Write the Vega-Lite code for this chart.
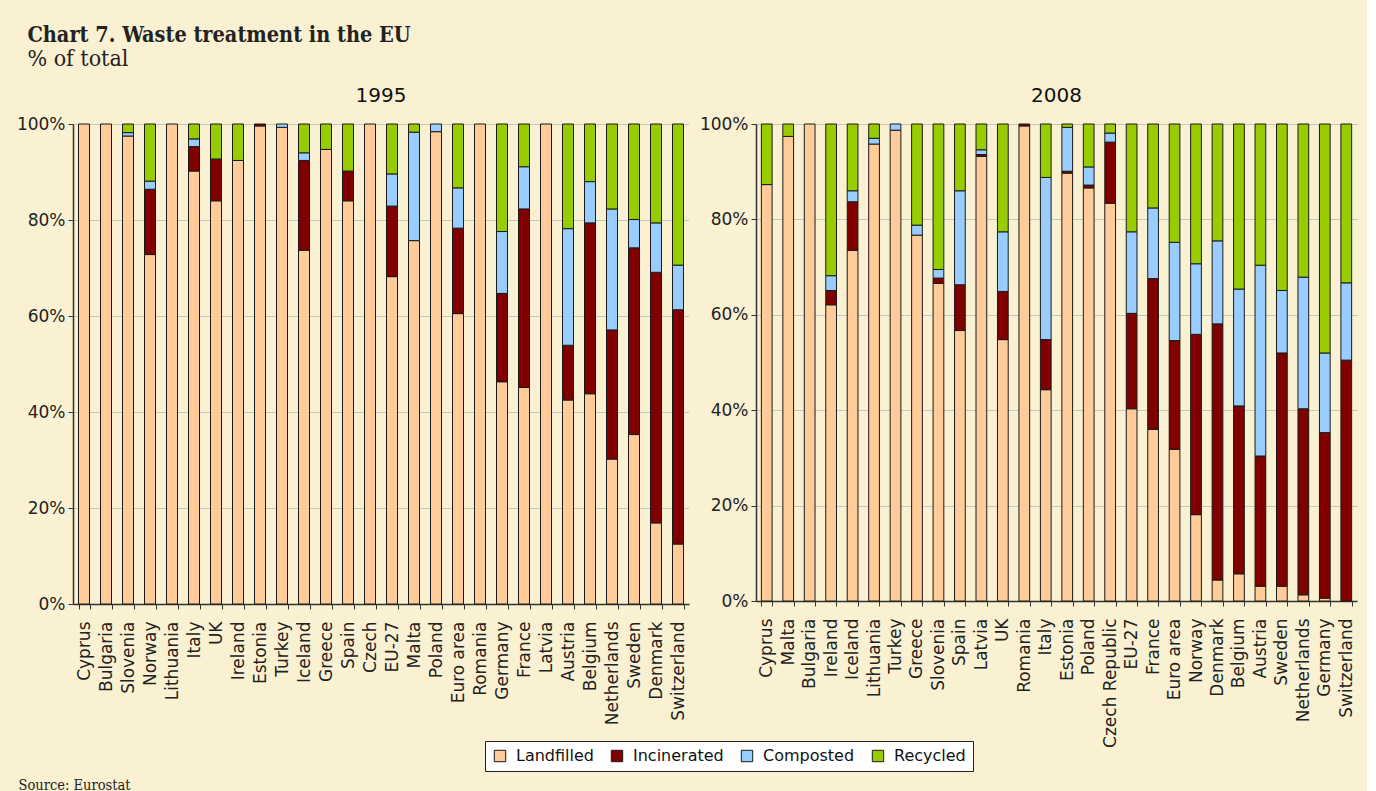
{
  "$schema": "https://vega.github.io/schema/vega-lite/v6.json",
  "background": "#FAF1D2",
  "padding": {"left": 16, "top": 24, "right": 10, "bottom": 2},
  "title": {
    "text": "Chart 7. Waste treatment in the EU",
    "subtitle": "% of total",
    "anchor": "start",
    "dx": 11,
    "font": "DejaVu Serif Condensed, DejaVu Serif",
    "fontSize": 21.5,
    "fontWeight": "bold",
    "color": "#222222",
    "subtitleFont": "DejaVu Serif Condensed, DejaVu Serif",
    "subtitleFontSize": 23,
    "subtitleColor": "#222222",
    "subtitlePadding": 2,
    "offset": 15
  },
  "datasets": {
    "waste": [
      {"year": "1995", "country": "Cyprus", "Landfilled": 100, "Incinerated": 0, "Composted": 0, "Recycled": 0},
      {"year": "1995", "country": "Bulgaria", "Landfilled": 100, "Incinerated": 0, "Composted": 0, "Recycled": 0},
      {"year": "1995", "country": "Slovenia", "Landfilled": 97.5, "Incinerated": 0, "Composted": 0.7, "Recycled": 1.8},
      {"year": "1995", "country": "Norway", "Landfilled": 72.8, "Incinerated": 13.6, "Composted": 1.7, "Recycled": 11.9},
      {"year": "1995", "country": "Lithuania", "Landfilled": 100, "Incinerated": 0, "Composted": 0, "Recycled": 0},
      {"year": "1995", "country": "Italy", "Landfilled": 90.2, "Incinerated": 5.1, "Composted": 1.6, "Recycled": 3.1},
      {"year": "1995", "country": "UK", "Landfilled": 84.0, "Incinerated": 8.7, "Composted": 0, "Recycled": 7.3},
      {"year": "1995", "country": "Ireland", "Landfilled": 92.4, "Incinerated": 0, "Composted": 0, "Recycled": 7.6},
      {"year": "1995", "country": "Estonia", "Landfilled": 99.6, "Incinerated": 0.4, "Composted": 0, "Recycled": 0},
      {"year": "1995", "country": "Turkey", "Landfilled": 99.3, "Incinerated": 0, "Composted": 0.7, "Recycled": 0},
      {"year": "1995", "country": "Iceland", "Landfilled": 73.7, "Incinerated": 18.7, "Composted": 1.6, "Recycled": 6.0},
      {"year": "1995", "country": "Greece", "Landfilled": 94.7, "Incinerated": 0, "Composted": 0, "Recycled": 5.3},
      {"year": "1995", "country": "Spain", "Landfilled": 84.0, "Incinerated": 6.2, "Composted": 0, "Recycled": 9.8},
      {"year": "1995", "country": "Czech", "Landfilled": 100, "Incinerated": 0, "Composted": 0, "Recycled": 0},
      {"year": "1995", "country": "EU-27", "Landfilled": 68.2, "Incinerated": 14.7, "Composted": 6.7, "Recycled": 10.4},
      {"year": "1995", "country": "Malta", "Landfilled": 75.7, "Incinerated": 0, "Composted": 22.6, "Recycled": 1.7},
      {"year": "1995", "country": "Poland", "Landfilled": 98.4, "Incinerated": 0, "Composted": 1.6, "Recycled": 0},
      {"year": "1995", "country": "Euro area", "Landfilled": 60.5, "Incinerated": 17.8, "Composted": 8.4, "Recycled": 13.3},
      {"year": "1995", "country": "Romania", "Landfilled": 100, "Incinerated": 0, "Composted": 0, "Recycled": 0},
      {"year": "1995", "country": "Germany", "Landfilled": 46.3, "Incinerated": 18.4, "Composted": 12.9, "Recycled": 22.4},
      {"year": "1995", "country": "France", "Landfilled": 45.1, "Incinerated": 37.2, "Composted": 8.8, "Recycled": 8.9},
      {"year": "1995", "country": "Latvia", "Landfilled": 100, "Incinerated": 0, "Composted": 0, "Recycled": 0},
      {"year": "1995", "country": "Austria", "Landfilled": 42.5, "Incinerated": 11.4, "Composted": 24.3, "Recycled": 21.8},
      {"year": "1995", "country": "Belgium", "Landfilled": 43.8, "Incinerated": 35.6, "Composted": 8.6, "Recycled": 12.0},
      {"year": "1995", "country": "Netherlands", "Landfilled": 30.2, "Incinerated": 26.9, "Composted": 25.2, "Recycled": 17.7},
      {"year": "1995", "country": "Sweden", "Landfilled": 35.3, "Incinerated": 38.9, "Composted": 5.9, "Recycled": 19.9},
      {"year": "1995", "country": "Denmark", "Landfilled": 16.9, "Incinerated": 52.2, "Composted": 10.3, "Recycled": 20.6},
      {"year": "1995", "country": "Switzerland", "Landfilled": 12.5, "Incinerated": 48.8, "Composted": 9.3, "Recycled": 29.4},
      {"year": "2008", "country": "Cyprus", "Landfilled": 87.3, "Incinerated": 0, "Composted": 0, "Recycled": 12.7},
      {"year": "2008", "country": "Malta", "Landfilled": 97.4, "Incinerated": 0, "Composted": 0, "Recycled": 2.6},
      {"year": "2008", "country": "Bulgaria", "Landfilled": 100, "Incinerated": 0, "Composted": 0, "Recycled": 0},
      {"year": "2008", "country": "Ireland", "Landfilled": 62.1, "Incinerated": 3.0, "Composted": 3.1, "Recycled": 31.8},
      {"year": "2008", "country": "Iceland", "Landfilled": 73.5, "Incinerated": 10.2, "Composted": 2.3, "Recycled": 14.0},
      {"year": "2008", "country": "Lithuania", "Landfilled": 95.8, "Incinerated": 0, "Composted": 1.2, "Recycled": 3.0},
      {"year": "2008", "country": "Turkey", "Landfilled": 98.7, "Incinerated": 0, "Composted": 1.3, "Recycled": 0},
      {"year": "2008", "country": "Greece", "Landfilled": 76.7, "Incinerated": 0, "Composted": 2.1, "Recycled": 21.2},
      {"year": "2008", "country": "Slovenia", "Landfilled": 66.6, "Incinerated": 1.1, "Composted": 1.8, "Recycled": 30.5},
      {"year": "2008", "country": "Spain", "Landfilled": 56.7, "Incinerated": 9.6, "Composted": 19.7, "Recycled": 14.0},
      {"year": "2008", "country": "Latvia", "Landfilled": 93.2, "Incinerated": 0.4, "Composted": 1.0, "Recycled": 5.4},
      {"year": "2008", "country": "UK", "Landfilled": 54.8, "Incinerated": 10.1, "Composted": 12.5, "Recycled": 22.6},
      {"year": "2008", "country": "Romania", "Landfilled": 99.6, "Incinerated": 0.4, "Composted": 0, "Recycled": 0},
      {"year": "2008", "country": "Italy", "Landfilled": 44.3, "Incinerated": 10.5, "Composted": 34.0, "Recycled": 11.2},
      {"year": "2008", "country": "Estonia", "Landfilled": 89.7, "Incinerated": 0.4, "Composted": 9.2, "Recycled": 0.7},
      {"year": "2008", "country": "Poland", "Landfilled": 86.6, "Incinerated": 0.6, "Composted": 3.8, "Recycled": 9.0},
      {"year": "2008", "country": "Czech Republic", "Landfilled": 83.4, "Incinerated": 12.8, "Composted": 1.9, "Recycled": 1.9},
      {"year": "2008", "country": "EU-27", "Landfilled": 40.3, "Incinerated": 20.0, "Composted": 17.1, "Recycled": 22.6},
      {"year": "2008", "country": "France", "Landfilled": 36.0, "Incinerated": 31.6, "Composted": 14.8, "Recycled": 17.6},
      {"year": "2008", "country": "Euro area", "Landfilled": 31.8, "Incinerated": 22.8, "Composted": 20.6, "Recycled": 24.8},
      {"year": "2008", "country": "Norway", "Landfilled": 18.1, "Incinerated": 37.8, "Composted": 14.8, "Recycled": 29.3},
      {"year": "2008", "country": "Denmark", "Landfilled": 4.4, "Incinerated": 53.7, "Composted": 17.4, "Recycled": 24.5},
      {"year": "2008", "country": "Belgium", "Landfilled": 5.7, "Incinerated": 35.2, "Composted": 24.5, "Recycled": 34.6},
      {"year": "2008", "country": "Austria", "Landfilled": 3.1, "Incinerated": 27.3, "Composted": 40.0, "Recycled": 29.6},
      {"year": "2008", "country": "Sweden", "Landfilled": 3.1, "Incinerated": 48.9, "Composted": 13.1, "Recycled": 34.9},
      {"year": "2008", "country": "Netherlands", "Landfilled": 1.3, "Incinerated": 39.0, "Composted": 27.6, "Recycled": 32.1},
      {"year": "2008", "country": "Germany", "Landfilled": 0.6, "Incinerated": 34.7, "Composted": 16.7, "Recycled": 48.0},
      {"year": "2008", "country": "Switzerland", "Landfilled": 0, "Incinerated": 50.5, "Composted": 16.2, "Recycled": 33.3}
    ]
  },
  "data": {"name": "waste"},
  "transform": [
    {"fold": ["Landfilled", "Incinerated", "Composted", "Recycled"], "as": ["treatment", "share"]},
    {"window": [{"op": "row_number", "as": "stackOrder"}], "groupby": ["year", "country"]},
    {"filter": "datum.share > 0"}
  ],
  "spacing": 10,
  "resolve": {"scale": {"x": "independent", "y": "independent"}},
  "hconcat": [
    {
      "width": 616,
      "height": 480,
      "title": {"text": "1995", "font": "DejaVu Sans", "fontSize": 20, "fontWeight": "normal", "anchor": "middle", "offset": 9, "color": "#111111"},
      "transform": [{"filter": "datum.year == '1995'"}],
      "mark": {"type": "bar", "stroke": "#1a1a1a", "strokeWidth": 1},
      "encoding": {
        "x": {
          "field": "country",
          "type": "nominal",
          "sort": ["Cyprus", "Bulgaria", "Slovenia", "Norway", "Lithuania", "Italy", "UK", "Ireland", "Estonia", "Turkey", "Iceland", "Greece", "Spain", "Czech", "EU-27", "Malta", "Poland", "Euro area", "Romania", "Germany", "France", "Latvia", "Austria", "Belgium", "Netherlands", "Sweden", "Denmark", "Switzerland"],
          "scale": {"paddingInner": 0.5, "paddingOuter": 0.25},
          "axis": {
            "title": "Source: Eurostat",
            "titleFont": "DejaVu Serif Condensed, DejaVu Serif",
            "titleFontSize": 14.5,
            "titleFontWeight": "normal",
            "titleColor": "#222222",
            "titleAnchor": "start",
            "titleAlign": "left",
            "titleBaseline": "alphabetic",
            "titleX": -55,
            "titleY": 185
          }
        },
        "y": {
          "field": "share",
          "type": "quantitative",
          "stack": "zero",
          "scale": {"domain": [0, 100], "nice": false},
          "axis": {"title": null, "values": [0, 20, 40, 60, 80, 100], "labelExpr": "datum.value + '%'"}
        },
        "color": {
          "field": "treatment",
          "type": "nominal",
          "scale": {"domain": ["Landfilled", "Incinerated", "Composted", "Recycled"], "range": ["#FFCC99", "#800000", "#99CCFF", "#99CC00"]},
          "legend": {
            "title": null,
            "orient": "none",
            "direction": "horizontal",
            "legendX": 412,
            "legendY": 617,
            "fillColor": "#FFFFFF",
            "strokeColor": "#222222",
            "padding": 7,
            "symbolType": "square",
            "symbolSize": 130,
            "symbolStrokeWidth": 1,
            "symbolStrokeColor": "#1a1a1a",
            "labelFont": "DejaVu Sans",
            "labelFontSize": 16,
            "labelColor": "#111111",
            "columnPadding": 15,
            "labelOffset": 8
          }
        },
        "order": {"field": "stackOrder", "type": "quantitative"}
      }
    },
    {
      "width": 601,
      "height": 477,
      "title": {"text": "2008", "font": "DejaVu Sans", "fontSize": 20, "fontWeight": "normal", "anchor": "middle", "offset": 9, "color": "#111111"},
      "transform": [{"filter": "datum.year == '2008'"}],
      "mark": {"type": "bar", "stroke": "#1a1a1a", "strokeWidth": 1},
      "encoding": {
        "x": {
          "field": "country",
          "type": "nominal",
          "sort": ["Cyprus", "Malta", "Bulgaria", "Ireland", "Iceland", "Lithuania", "Turkey", "Greece", "Slovenia", "Spain", "Latvia", "UK", "Romania", "Italy", "Estonia", "Poland", "Czech Republic", "EU-27", "France", "Euro area", "Norway", "Denmark", "Belgium", "Austria", "Sweden", "Netherlands", "Germany", "Switzerland"],
          "scale": {"paddingInner": 0.5, "paddingOuter": 0.25},
          "axis": {"title": null}
        },
        "y": {
          "field": "share",
          "type": "quantitative",
          "stack": "zero",
          "scale": {"domain": [0, 100], "nice": false},
          "axis": {"title": null, "values": [0, 20, 40, 60, 80, 100], "labelExpr": "datum.value + '%'"}
        },
        "color": {
          "field": "treatment",
          "type": "nominal",
          "scale": {"domain": ["Landfilled", "Incinerated", "Composted", "Recycled"], "range": ["#FFCC99", "#800000", "#99CCFF", "#99CC00"]}
        },
        "order": {"field": "stackOrder", "type": "quantitative"}
      }
    }
  ],
  "config": {
    "view": {"stroke": null},
    "axis": {
      "labelFont": "DejaVu Sans",
      "labelFontSize": 17,
      "labelColor": "#222222",
      "domainColor": "#333333",
      "tickColor": "#333333",
      "tickSize": 5,
      "domainWidth": 1.5
    },
    "axisY": {"grid": true, "gridColor": "#C9C6BC", "gridWidth": 1.2, "labelPadding": 3},
    "axisX": {"grid": false, "labelAngle": -90, "labelAlign": "right", "labelBaseline": "middle", "tickBand": "extent", "labelPadding": 12}
  }
}
